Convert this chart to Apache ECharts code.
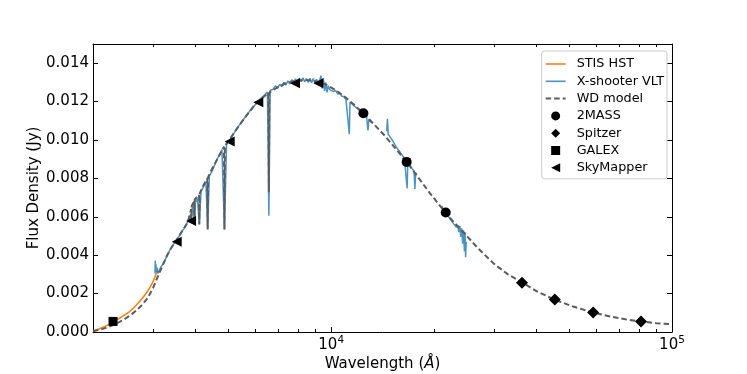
<!DOCTYPE html>
<html>
<head>
<meta charset="utf-8">
<script src="https://cdn.jsdelivr.net/npm/echarts@6/dist/echarts.min.js"></script>
<style>
  html, body { margin: 0; padding: 0; background: #fff; }
  #chart { width: 747px; height: 374px; }
</style>
</head>
<body>
<div id="chart"></div>
<script>
// STIS HST (UV spectrum)
const stisWave = [2000, 2080, 2150, 2230, 2300, 2380, 2460, 2550, 2630, 2720, 2820, 2900, 2950, 3000, 3060, 3100];
const stisFlux = [0.00007, 0.00016, 0.00026, 0.00040, 0.00055, 0.00069, 0.00085, 0.00104, 0.00125, 0.00152, 0.00186, 0.00215, 0.00238, 0.00262, 0.00300, 0.00318];

// X-shooter VLT spectrum (null = gap between arms / telluric bands)
const xsWave = [
  3040, 3046, 3052, 3060, 3070, 3085, 3100, 3130, 3170, 3210, 3260, 3310, 3360, 3410, 3460, 3520,
  3580, 3640, 3700, 3760, 3800, 3835, 3850, 3865, 3889, 3905, 3940, 3970, 3995, 4050, 4102, 4150,
  4230, 4290, 4340, 4390, 4480, 4580, 4680, 4780, 4861, 4930, 5036, 5150, 5300, 5450, 5600, 5750,
  5900, 6050, 6200, 6350, 6500, 6563, 6620, 6760, 6860, 6960, 7060, 7160, 7260, 7360, 7460, 7560,
  7660, 7760, 7860, 7960, 8060, 8160, 8260, 8360, 8460, 8560, 8660, 8760, 8860, 8960, 9060, 9160,
  9260, 9330, 9400, 9480, 9560, 9640, 9720, 9800, 9900, 10000, 10150, 10300, 10450, 10600, 10750, 10900,
  11050, 11200, 11300, 11355, 11500, 11700, 11900, 12100, 12300, 12500, 12700, 12820, 12900, 13000, 13150,
  13800,
  14550, 14620, 14700, 14900, 15200, 15500, 15800, 16100, 16400, 16700, 16780, 17000, 17250, 17500, 17600, 17700, 17820,
  19500,
  21100, 21300, 21500, 21700, 21900, 22100, 22300, 22500, 22700, 22900, 23100, 23300, 23500, 23700, 23850, 24000,
  24150, 24300, 24450, 24600, 24700, 24800, 24900
];
const xsFlux = [
  0.00305, 0.00372, 0.00318, 0.00352, 0.00312, 0.00335, 0.00305, 0.00322, 0.00340, 0.00355, 0.00378, 0.00402, 0.00425, 0.00446, 0.00462, 0.00478,
  0.00500, 0.00522, 0.00540, 0.00562, 0.00578, 0.00600, 0.00585, 0.00615, 0.00590, 0.00640, 0.00655, 0.00575, 0.00675, 0.00695, 0.00562, 0.00732,
  0.00760, 0.00782, 0.00538, 0.00812, 0.00842, 0.00882, 0.00918, 0.00950, 0.00535, 0.00978, 0.00998, 0.01028, 0.01062, 0.01092, 0.01120, 0.01148,
  0.01172, 0.01192, 0.01215, 0.01232, 0.01250, 0.00605, 0.01258, 0.01265, 0.01282, 0.01270, 0.01290, 0.01278, 0.01300, 0.01286, 0.01308, 0.01292,
  0.01314, 0.01298, 0.01318, 0.01300, 0.01322, 0.01304, 0.01324, 0.01302, 0.01320, 0.01300, 0.01322, 0.01298, 0.01320, 0.01294, 0.01316, 0.01290,
  0.01312, 0.01335, 0.01268, 0.01322, 0.01255, 0.01300, 0.01248, 0.01282, 0.01262, 0.01270, 0.01252, 0.01258, 0.01240, 0.01242, 0.01228, 0.01226,
  0.01210, 0.01206, 0.01030, 0.01198, 0.01188, 0.01176, 0.01166, 0.01154, 0.01144, 0.01132, 0.01120, 0.01050, 0.01108, 0.01100, 0.01090,
  null,
  0.01045, 0.01110, 0.01030, 0.01015, 0.00992, 0.00965, 0.00945, 0.00925, 0.00905, 0.00748, 0.00882, 0.00868, 0.00852, 0.00838, 0.00745, 0.00830, 0.00820,
  null,
  0.00656, 0.00640, 0.00632, 0.00618, 0.00612, 0.00600, 0.00594, 0.00580, 0.00578, 0.00562, 0.00568, 0.00545, 0.00556, 0.00520, 0.00552, 0.00495,
  0.00540, 0.00460, 0.00530, 0.00420, 0.00520, 0.00390, 0.00470
];

// WD model (continuum with Balmer lines)
const modelWave = [
  2000, 2100, 2200, 2300, 2400, 2500, 2600, 2700, 2800, 2900, 3000, 3100, 3200, 3300, 3400, 3500,
  3600, 3700, 3800, 3880, 3889, 3898, 3964, 3970, 3976, 4094, 4102, 4110, 4200, 4328, 4340, 4352,
  4500, 4700, 4846, 4861, 4876, 5000, 5300, 5600, 6000, 6300, 6545, 6563, 6581, 6900, 7300, 7800,
  8400, 8900, 9400, 9900, 10500, 11000, 11700, 12430, 13300, 14400, 15500, 16700, 18000, 19500, 21680,
  23000, 24500, 27000, 30000, 33000, 36500, 40000, 45000, 51000, 58500, 66000, 73000, 81000, 90000, 100000
];
const modelFlux = [
  0.00004, 0.00012, 0.00024, 0.00038, 0.00054, 0.00072, 0.00093, 0.00117, 0.00145, 0.00180, 0.00228, 0.00290, 0.00345, 0.00400, 0.00440, 0.00472,
  0.00508, 0.00540, 0.00575, 0.00640, 0.00587, 0.00656, 0.00686, 0.00570, 0.00690, 0.00714, 0.00560, 0.00720, 0.00758, 0.00800, 0.00534, 0.00806,
  0.00860, 0.00920, 0.00965, 0.00534, 0.00970, 0.00995, 0.01062, 0.01120, 0.01188, 0.01222, 0.01245, 0.00728, 0.01247, 0.01270, 0.01293, 0.01308,
  0.01313, 0.01308, 0.01298, 0.01278, 0.01250, 0.01222, 0.01182, 0.01139, 0.01085, 0.01020, 0.00952, 0.00884, 0.00805, 0.00722, 0.00620,
  0.00568, 0.00517, 0.00435, 0.00356, 0.00300, 0.00256, 0.00213, 0.00170, 0.00134, 0.00102, 0.00080, 0.00066, 0.00055, 0.00046, 0.00040
];

// photometry
const twoMassWave = [12430, 16650, 21680];
const twoMassFlux = [0.01139, 0.00886, 0.00622];
const spitzerWave = [36300, 45300, 58700, 81100];
const spitzerFlux = [0.00256, 0.00169, 0.00102, 0.00055];
const galexWave = [2290];
const galexFlux = [0.00055];
const skyWave = [3520, 3880, 5036, 6110, 7830, 9170];
const skyFlux = [0.00470, 0.00578, 0.00992, 0.01196, 0.01295, 0.01295];

// axis ticks
const xMajorTicks = [10000, 100000];
const xMinorTicks = [2000, 3000, 4000, 5000, 6000, 7000, 8000, 9000, 20000, 30000, 40000, 50000, 60000, 70000, 80000, 90000];

const FONT = "DejaVu Sans";
const triPath = "path://M0,5L10,0L10,10Z";
const diamondPath = "path://M5,0L10,5L5,10L0,5Z";
const squarePath = "path://M0,0H10V10H0Z";
// legend handles for the spectra (solid and dashed line)
const solidIcon = "path://M0,0H20V1.6H0Z";
const dashIcon = "path://M0,0H5.5V2H0Z M8.5,0H14V2H8.5Z M17,0H20V2H17Z";

function pairs(w, f) {
  return w.map((x, i) => [x, f[i] == null ? "-" : f[i]]);
}

const chart = echarts.init(document.getElementById("chart"), null, { renderer: "canvas" });

function xAxisDef(pos, major) {
  const ticks = major ? xMajorTicks : xMinorTicks;
  return {
    type: "log", logBase: 10, min: 2000, max: 100000, position: pos,
    splitLine: { show: false },
    axisLine: { show: major, onZero: false, lineStyle: { color: "#000", width: 1 } },
    axisTick: { inside: true, length: major ? 5 : 3, customValues: ticks, lineStyle: { color: "#000", width: 1 } },
    axisLabel: { show: false },
  };
}

const xBottom = xAxisDef("bottom", true);
xBottom.axisLabel = {
  show: true, customValues: xMajorTicks, margin: 3, color: "#000",
  formatter: v => "{b|10}{s|" + Math.round(Math.log10(v)) + "}",
  rich: {
    b: { fontSize: 15, fontFamily: FONT, color: "#000" },
    s: { fontSize: 10.5, fontFamily: FONT, color: "#000", padding: [0, 0, 9, 0] },
  },
};
xBottom.name = "{n|Wavelength (}{i|Å}{n|)}";
xBottom.nameLocation = "middle";
xBottom.nameGap = 25;
xBottom.nameMoveOverlap = false;
xBottom.nameTextStyle = {
  rich: {
    n: { fontSize: 15, fontFamily: FONT, color: "#000" },
    i: { fontSize: 15, fontFamily: FONT, fontStyle: "italic", color: "#000" },
  },
};

function yAxisDef(pos, withLabels) {
  return {
    type: "value", min: 0, max: 0.015, interval: 0.002, position: pos,
    splitLine: { show: false },
    axisLine: { show: true, onZero: false, lineStyle: { color: "#000", width: 1 } },
    axisTick: { inside: true, length: 5, lineStyle: { color: "#000", width: 1 } },
    axisLabel: withLabels ? {
      show: true, margin: 4, color: "#000", fontSize: 15, fontFamily: FONT, showMaxLabel: false,
      formatter: v => (v > 0.0145 ? "" : v.toFixed(3)),
    } : { show: false },
  };
}

const yLeft = yAxisDef("left", true);
yLeft.name = "Flux Density (Jy)";
yLeft.nameLocation = "middle";
yLeft.nameRotate = 90;
yLeft.nameGap = 51;
yLeft.nameMoveOverlap = false;
yLeft.nameTextStyle = { fontSize: 15, fontFamily: FONT, color: "#000" };

const scatterBase = {
  type: "scatter", xAxisIndex: 0, yAxisIndex: 0, z: 5, symbolKeepAspect: true,
  itemStyle: { color: "#000", opacity: 1 },
};

const option = {
  animation: false,
  backgroundColor: "#fff",
  textStyle: { fontFamily: FONT },
  grid: { left: 93, right: 75, top: 44, bottom: 42, containLabel: false, outerBoundsMode: "none" },
  xAxis: [xBottom, xAxisDef("bottom", false), xAxisDef("top", true), xAxisDef("top", false)],
  yAxis: [yLeft, yAxisDef("right", false)],
  legend: {
    orient: "vertical", right: 80, top: 51,
    backgroundColor: "#fff", borderColor: "#cccccc", borderWidth: 1, borderRadius: 3,
    padding: [6, 3, 4, 4], itemGap: 3.3, itemWidth: 20, itemHeight: 9, symbolKeepAspect: true,
    textStyle: { fontSize: 12.8, fontFamily: FONT, color: "#000", lineHeight: 14, padding: [0, 0, 0, 6] },
    data: [
      { name: "STIS HST", icon: solidIcon },
      { name: "X-shooter VLT", icon: solidIcon },
      { name: "WD model", icon: dashIcon },
      { name: "2MASS", icon: "circle" },
      { name: "Spitzer", icon: diamondPath },
      { name: "GALEX", icon: squarePath },
      { name: "SkyMapper", icon: triPath },
    ],
  },
  series: [
    {
      name: "STIS HST", type: "line", xAxisIndex: 0, yAxisIndex: 0, z: 2, symbolKeepAspect: true,
      data: pairs(stisWave, stisFlux), symbol: "none", showSymbol: false,
      lineStyle: { color: "#ff7f0e", width: 1.5 }, itemStyle: { color: "#ff7f0e" },
    },
    {
      name: "X-shooter VLT", type: "line", xAxisIndex: 0, yAxisIndex: 0, z: 3, symbolKeepAspect: true,
      data: pairs(xsWave, xsFlux), symbol: "none", showSymbol: false, connectNulls: false,
      lineStyle: { color: "rgba(31,119,180,0.8)", width: 1.5 }, itemStyle: { color: "rgba(31,119,180,0.8)" },
    },
    {
      name: "WD model", type: "line", xAxisIndex: 0, yAxisIndex: 0, z: 4, symbolKeepAspect: true,
      data: pairs(modelWave, modelFlux), symbol: "none", showSymbol: false,
      lineStyle: { color: "#5c5c5c", width: 2, type: [5.5, 3] }, itemStyle: { color: "#5c5c5c" },
    },
    Object.assign({}, scatterBase, { name: "2MASS", symbol: "circle", symbolSize: 10, data: pairs(twoMassWave, twoMassFlux) }),
    Object.assign({}, scatterBase, { name: "Spitzer", symbol: diamondPath, symbolSize: 12, data: pairs(spitzerWave, spitzerFlux) }),
    Object.assign({}, scatterBase, { name: "GALEX", symbol: squarePath, symbolSize: 9, data: pairs(galexWave, galexFlux) }),
    Object.assign({}, scatterBase, { name: "SkyMapper", symbol: triPath, symbolSize: 10, data: pairs(skyWave, skyFlux) }),
  ],
};

chart.setOption(option);
</script>
</body>
</html>
